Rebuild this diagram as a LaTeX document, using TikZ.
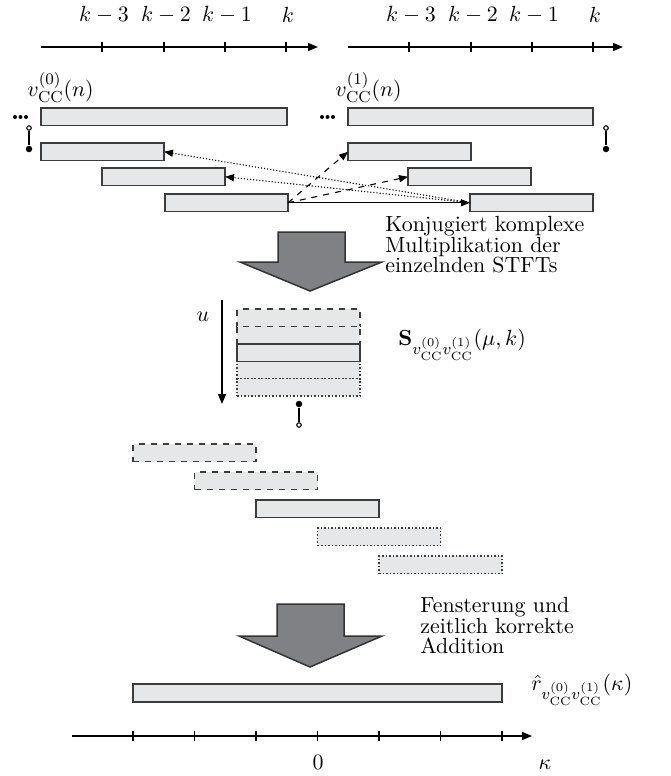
\documentclass[11pt,tikz,border=0pt]{standalone}
\usetikzlibrary{arrows.meta}

\newcommand{\pxu}{0.5pt}
\definecolor{barfill}{RGB}{230,231,232}
\definecolor{bardraw}{RGB}{60,60,60}
\definecolor{bigarrow}{RGB}{128,129,132}

\tikzset{
  bar/.style={draw=bardraw, fill=barfill, line width=0.75pt, inner sep=0pt, outer sep=0pt,
    minimum height=17.5*\pxu, anchor=north west},
  win/.style={bar, minimum width=123*\pxu},
  axis/.style={line width=0.65pt, -{Triangle[length=5pt,width=4pt]}},
  link/.style={line width=0.55pt, -{Triangle[length=4.5pt,width=3.5pt]}},
  stemopen/.style={circle, draw, fill=white, line width=0.55pt, inner sep=0pt, minimum size=4.5*\pxu},
  stemdot/.style={circle, fill=black, inner sep=0pt, minimum size=6.5*\pxu},
  fat/.style={fill=bigarrow, draw=black!80, line width=0.75pt},
  txt/.style={anchor=north west, align=left, inner sep=0pt, font=\fontsize{10.95}{10.3}\selectfont},
}

\begin{document}
\begin{tikzpicture}[x=\pxu, y=-\pxu]
  \useasboundingbox (0,0) rectangle (670,776);

  % time axes of the two signals
  \draw[axis] (41,47) -- (318,47);
  \draw[axis] (348,47) -- (623,47);
  \foreach \t/\lab [count=\i] in {102/k-3,164/k-2,225/k-1,286/k} {
    \draw[line width=0.55pt] (\t,42) -- (\t,52);
    \draw[line width=0.55pt] (\t+307,42) -- (\t+307,52);
    \node (la\i) at (\t+2,15) {$\lab$};
    \node (lb\i) at (\t+309,15) {$\lab$};
  }

  % signal 0 and its frames
  \node[bar, minimum width=246*\pxu] (L0) at (41,108) {};
  \node[win] (L1) at (41,143) {};
  \node[win] (L2) at (102,168) {};
  \node[win] (L3) at (165,194) {};
  \node[anchor=base west, inner sep=0pt] (vl) at (27,96) {$v^{(0)}_{\mathrm{CC}}(n)$};

  % signal 1 and its frames
  \node[bar, minimum width=245*\pxu] (R0) at (348,108) {};
  \node[win] (R1) at (348,143) {};
  \node[win] (R2) at (408,168) {};
  \node[win] (R3) at (470,194) {};
  \node[anchor=base west, inner sep=0pt] (vr) at (335,96) {$v^{(1)}_{\mathrm{CC}}(n)$};

  % dots
  \foreach \d in {0,1,2} {
    \fill (15+\d*5.5,117) circle (2);
    \fill (322+\d*5.5,117) circle (2);
  }

  % lollipops
  \node[stemopen] (pl0) at (29,128) {};
  \node[stemdot] (pl1) at (29,149) {};
  \draw[line width=0.55pt] (pl0) -- (pl1);
  \node[stemopen] (pr0) at (606,128) {};
  \node[stemdot] (pr1) at (606,149) {};
  \draw[line width=0.55pt] (pr0) -- (pr1);

  % frame pairs
  \draw[link, densely dotted] (R3.west) -- (L1.east);
  \draw[link, densely dotted] (R3.west) -- (L2.east);
  \draw[link, dashed] (L3.east) -- (R1.west);
  \draw[link, dashed] (L3.east) -- (R2.west);
  \draw[link] (L3.east) -- (R3.west);

  \node[txt] (t1) at (385,216) {Konjugiert komplexe\\Multiplikation der\\einzelnden STFTs};
  \draw[fat] (278,232) -- (345,232) -- (345,262) -- (382,262) -- (310,291) -- (240,262) -- (278,262) -- cycle;

  % cross spectra
  \node[win, dashed] (S1) at (237,309) {};
  \node[win, dashed] (S2) at (237,326.4) {};
  \node[win, densely dotted] (S4) at (237,361.2) {};
  \node[win, densely dotted] (S5) at (237,378.6) {};
  \node[win] (S3) at (237,343.8) {};
  \node[anchor=base west, inner sep=0pt] (Slab) at (398,345)
    {$\mathbf{S}_{v^{(0)}_{\mathrm{CC}}v^{(1)}_{\mathrm{CC}}}(\mu,k)$};

  \coordinate (u0) at (222,300);
  \coordinate (u1) at (222,404);
  \draw[axis] (u0) -- (u1);
  \node (ulab) at (203,317) {$u$};

  \node[stemdot] (pm0) at (299,404) {};
  \node[stemopen] (pm1) at (299,425) {};
  \draw[line width=0.55pt] (pm0) -- (pm1);

  % back in time domain
  \node[win, dashed] (B1) at (133,444) {};
  \node[win, dashed] (B2) at (194.5,472) {};
  \node[win] (B3) at (256,500) {};
  \node[win, densely dotted] (B4) at (317.5,528) {};
  \node[win, densely dotted] (B5) at (379,556) {};

  \node[txt] (t2) at (420,597) {Fensterung und\\zeitlich korrekte\\Addition};
  \draw[fat] (277,604) -- (344,604) -- (344,636) -- (382,636) -- (310,667) -- (239,636) -- (277,636) -- cycle;

  % result
  \node[bar, minimum width=369*\pxu, minimum height=18*\pxu] (res) at (133,684) {};
  \node[anchor=base west, inner sep=0pt] (rlab) at (531,690)
    {$\hat r_{v^{(0)}_{\mathrm{CC}}v^{(1)}_{\mathrm{CC}}}(\kappa)$};

  \draw[axis] (72,736) -- (532,736);
  \foreach \i in {0,...,6}
    \draw[line width=0.55pt] (133+61.5*\i,731) -- (133+61.5*\i,741);
  \node (zero) at (318,762) {$0$};
  \node (kap) at (545,765) {$\kappa$};
\end{tikzpicture}
\end{document}
